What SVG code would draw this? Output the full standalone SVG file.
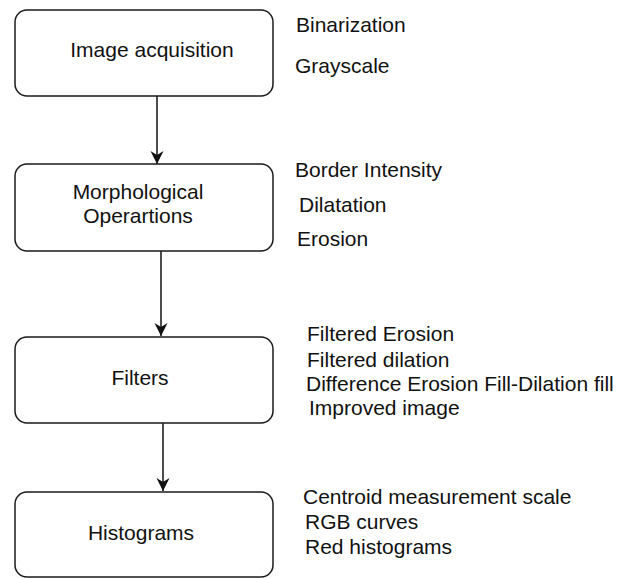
<svg xmlns="http://www.w3.org/2000/svg" width="618" height="578" viewBox="0 0 618 578">
<style>
.box{fill:#fff;stroke:#1a1a1a;stroke-width:1.5}
.t{font-family:"Liberation Sans",Arial,sans-serif;font-size:21px;fill:#111}
.c{text-anchor:middle}
.edge{stroke:#111;stroke-width:1.5;fill:none}
</style>
<defs>
<marker id="arr" markerWidth="14" markerHeight="14" refX="13" refY="7" orient="auto" markerUnits="userSpaceOnUse">
<path d="M0,0.5 L13,7 L0,13.5 L4,7 Z" fill="#111"/>
</marker>
</defs>
<rect width="618" height="578" fill="#fff"/>
<g id="connectors">
<line class="edge" x1="157" y1="96" x2="157" y2="164" marker-end="url(#arr)"/>
<line class="edge" x1="161" y1="251" x2="161" y2="336" marker-end="url(#arr)"/>
<line class="edge" x1="163" y1="423" x2="163" y2="491" marker-end="url(#arr)"/>
</g>
<g id="node-acquisition">
<rect class="box" x="15" y="10" width="258" height="86" rx="12"/>
<text class="t c" x="152" y="57">Image acquisition</text>
</g>
<g id="node-morph">
<rect class="box" x="15" y="164" width="258" height="87" rx="12"/>
<text class="t c" x="138" y="199">Morphological</text>
<text class="t c" x="138" y="223">Operartions</text>
</g>
<g id="node-filters">
<rect class="box" x="15" y="337" width="258" height="86" rx="12"/>
<text class="t c" x="140" y="385">Filters</text>
</g>
<g id="node-histograms">
<rect class="box" x="15" y="492" width="258" height="85" rx="12"/>
<text class="t c" x="141" y="540">Histograms</text>
</g>
<g id="labels">
<text class="t" x="296" y="32">Binarization</text>
<text class="t" x="295" y="73">Grayscale</text>
<text class="t" x="295" y="177">Border Intensity</text>
<text class="t" x="299" y="212">Dilatation</text>
<text class="t" x="297" y="246">Erosion</text>
<text class="t" x="307" y="341">Filtered Erosion</text>
<text class="t" x="307" y="367">Filtered dilation</text>
<text class="t" x="306" y="391">Difference Erosion Fill-Dilation fill</text>
<text class="t" x="309" y="415">Improved image</text>
<text class="t" x="303" y="504">Centroid measurement scale</text>
<text class="t" x="305" y="529">RGB curves</text>
<text class="t" x="305" y="554">Red histograms</text>
</g>
</svg>
